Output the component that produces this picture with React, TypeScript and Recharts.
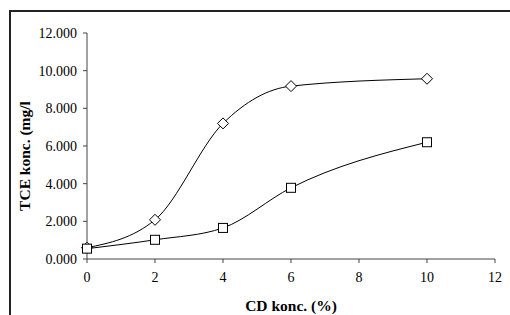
import React from "react";
import { LineChart, Line, XAxis, YAxis } from "recharts";

// CD concentration (%)
const cdKonc = [0, 2, 4, 6, 10];
// TCE concentration (mg/l), two series
const diamondSeries = [0.6, 2.08, 7.2, 9.18, 9.57];
const squareSeries = [0.55, 1.02, 1.65, 3.78, 6.2];
const xTicks = [0, 2, 4, 6, 8, 10, 12];
const yTicks = [0, 2, 4, 6, 8, 10, 12];

const data = cdKonc.map((x, i) => ({
  x,
  diamond: diamondSeries[i],
  square: squareSeries[i],
}));

const FONT = "'Liberation Serif', 'Times New Roman', serif";
const titleStyle = { fill: "#000", fontSize: 15.5, fontWeight: "bold" as const, fontFamily: FONT };

function DiamondDot(props: any) {
  const { cx, cy } = props;
  if (cx == null || cy == null) return null;
  const r = 5.5;
  return (
    <path
      d={`M${cx},${cy - r} L${cx + r},${cy} L${cx},${cy + r} L${cx - r},${cy} Z`}
      fill="#fff"
      stroke="#000"
      strokeWidth={1}
    />
  );
}

function SquareDot(props: any) {
  const { cx, cy } = props;
  if (cx == null || cy == null) return null;
  const s = 4.5;
  return (
    <rect x={cx - s} y={cy - s} width={s * 2} height={s * 2} fill="#fff" stroke="#000" strokeWidth={1} />
  );
}

function YTitle() {
  return (
    <text
      x={0}
      y={0}
      transform="translate(30,156) rotate(-90)"
      textAnchor="middle"
      style={titleStyle}
    >
      TCE konc. (mg/l
    </text>
  );
}

function XTitle(props: any) {
  const vb = props.viewBox || {};
  return (
    <text x={vb.x + vb.width / 2} y={311} textAnchor="middle" style={titleStyle}>
      CD konc. (%)
    </text>
  );
}

export default function App() {
  return (
    <div style={{ position: "absolute", left: 0, top: 0, width: 510, height: 315, background: "#fff" }}>
      <div
        style={{
          position: "absolute",
          left: 9,
          top: 10,
          right: 0,
          bottom: 0,
          borderTop: "2px solid #222",
          borderLeft: "2px solid #222",
        }}
      />
      <div style={{ position: "absolute", left: 0, top: 0 }}>
        <LineChart width={510} height={315} data={data} margin={{ top: 33, right: 15, left: 0, bottom: 0 }}>
          <XAxis
            dataKey="x"
            type="number"
            domain={[0, 12]}
            ticks={xTicks}
            height={56}
            stroke="#444"
            tickSize={4}
            tickMargin={9}
            tick={{ fill: "#000", fontSize: 14, fontFamily: FONT }}
            label={<XTitle />}
          />
          <YAxis
            type="number"
            domain={[0, 12]}
            ticks={yTicks}
            width={87}
            stroke="#444"
            tickSize={4}
            tickMargin={6}
            tickFormatter={(v) => Number(v).toFixed(3)}
            tick={{ fill: "#000", fontSize: 14, fontFamily: FONT }}
            label={<YTitle />}
          />
          <Line
            type="monotone"
            dataKey="diamond"
            stroke="#000"
            strokeWidth={1}
            dot={<DiamondDot />}
            activeDot={false}
            isAnimationActive={false}
          />
          <Line
            type="monotone"
            dataKey="square"
            stroke="#000"
            strokeWidth={1}
            dot={<SquareDot />}
            activeDot={false}
            isAnimationActive={false}
          />
        </LineChart>
      </div>
    </div>
  );
}
